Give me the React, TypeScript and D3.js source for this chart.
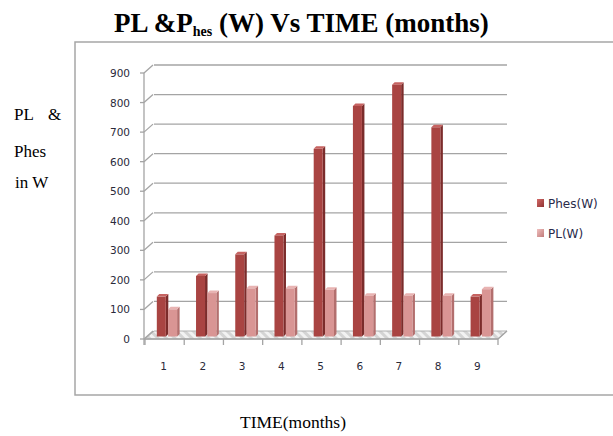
import * as d3 from 'd3';
import React from "react";

const months = ["1", "2", "3", "4", "5", "6", "7", "8", "9"];
const phesValues = [140, 210, 283, 347, 640, 785, 857, 713, 140];
const plValues = [97, 152, 168, 168, 163, 143, 143, 143, 165];
const yTicks = [0, 100, 200, 300, 400, 500, 600, 700, 800, 900];

const App = () => {
  // front plane of the 3d box
  const xScale = d3.scaleBand().domain(months).range([145, 498]);
  const yScale = d3.scaleLinear().domain([0, 900]).range([339, 73]);
  const depthX = 9;
  const depthY = 8;
  // bars stand in the middle of the floor
  const midX = 4;
  const midY = 3.5;
  const barW = 9;
  const sideW = 2.5;
  const topH = 2.5;

  const bar = (v, x, colors, key) => {
    const y0 = yScale(0) - midY + 1;
    const y1 = yScale(v) - midY + topH;
    const xl = x + midX;
    return (
      <g key={key}>
        <polygon points={`${xl + barW},${y1} ${xl + barW + sideW},${y1 - topH} ${xl + barW + sideW},${y0 - topH} ${xl + barW},${y0}`} fill={colors[1]} />
        <polygon points={`${xl},${y1} ${xl + sideW},${y1 - topH} ${xl + barW + sideW},${y1 - topH} ${xl + barW},${y1}`} fill={colors[2]} />
        <rect x={xl} y={y1} width={barW} height={y0 - y1} fill={colors[0]} />
      </g>
    );
  };

  const phesColors = ["#a94442", "#7b2c2b", "#c66361"];
  const plColors = ["#d99594", "#b36f6e", "#e8b3b2"];
  const floorFront = yScale(0);

  return (
    <svg width={613} height={436} style={{ position: "absolute", left: 0, top: 0, background: "#fff" }}>
      <defs>
        <pattern id="floorStripe" width="6" height="6" patternUnits="userSpaceOnUse" patternTransform="rotate(-45)">
          <rect width="6" height="6" fill="#d4d4d4" />
          <rect width="3" height="6" fill="#f2f2f2" />
        </pattern>
        <linearGradient id="gPhes" x1="0" x2="1" y1="0" y2="1">
          <stop offset="0" stopColor="#d46a68" />
          <stop offset="1" stopColor="#8e3231" />
        </linearGradient>
        <linearGradient id="gPl" x1="0" x2="1" y1="0" y2="1">
          <stop offset="0" stopColor="#f0c0bf" />
          <stop offset="1" stopColor="#c07a79" />
        </linearGradient>
      </defs>

      <text x={114} y={32} fontFamily="'Liberation Serif', serif" fontWeight="bold" fontSize={27} fill="#000">
        PL &amp;P<tspan fontSize={14} dy={4}>hes</tspan><tspan dy={-4}> (W) Vs TIME (months)</tspan>
      </text>

      <rect x={75} y={42} width={545} height={353} fill="#fff" stroke="#a6a6a6" strokeWidth={1.5} />

      <g fontFamily="'Liberation Serif', serif" fontSize={17} fill="#000">
        <text x={14} y={120}>PL</text>
        <text x={48} y={120}>&amp;</text>
        <text x={14} y={157}>Phes</text>
        <text x={15} y={188}>in W</text>
      </g>

      {/* floor */}
      <polygon
        points={`145,${floorFront} ${145 + depthX},${floorFront - depthY} ${498 + depthX},${floorFront - depthY} 498,${floorFront}`}
        fill="url(#floorStripe)" stroke="#b0b0b0" strokeWidth={1}
      />

      {/* back wall gridlines and left wall connectors */}
      {yTicks.map(t => (
        <g key={t} stroke="#a4a4a4" strokeWidth={1.3} fill="none">
          {t > 0 && <line x1={145 + depthX} x2={498 + depthX} y1={yScale(t) - depthY} y2={yScale(t) - depthY} />}
          <line x1={140} x2={144} y1={yScale(t)} y2={yScale(t)} />
          <line x1={144} x2={144 + depthX} y1={yScale(t)} y2={yScale(t) - depthY} />
        </g>
      ))}
      <line x1={144} x2={144} y1={yScale(900)} y2={yScale(0) + 6} stroke="#a4a4a4" strokeWidth={1.3} />
      <line x1={144} x2={498} y1={floorFront} y2={floorFront} stroke="#a4a4a4" strokeWidth={1.3} />
      <line x1={498} x2={498 + depthX} y1={floorFront} y2={floorFront - depthY} stroke="#a4a4a4" strokeWidth={1.3} />
      {months.concat(["end"]).map((m, i) => {
        const x = 145 + i * xScale.bandwidth();
        return <line key={m} x1={x} x2={x} y1={floorFront} y2={floorFront + 6} stroke="#a4a4a4" strokeWidth={1.3} />;
      })}

      {/* y tick labels */}
      <g fontFamily="'DejaVu Sans', sans-serif" fontSize={10.5} fill="#2a2a3a" textAnchor="end">
        {yTicks.map(t => (
          <text key={t} x={130} y={yScale(t) + 4}>{t}</text>
        ))}
      </g>

      {/* bars */}
      {months.map((m, i) => {
        const c = xScale(m) + xScale.bandwidth() / 2;
        return (
          <g key={m}>
            {bar(phesValues[i], c - 11.8, phesColors, "p")}
            {bar(plValues[i], c - 0.5, plColors, "l")}
          </g>
        );
      })}

      {/* x labels */}
      <g fontFamily="'DejaVu Sans', sans-serif" fontSize={10.5} fill="#2a2a3a" textAnchor="middle">
        {months.map(m => (
          <text key={m} x={xScale(m) + xScale.bandwidth() / 2 - 1} y={370}>{m}</text>
        ))}
      </g>

      {/* legend */}
      <g fontFamily="'DejaVu Sans', sans-serif" fontSize={12} fill="#2a2a4a">
        <rect x={537} y={199} width={7} height={8} fill="url(#gPhes)" />
        <text x={548} y={208}>Phes(W)</text>
        <rect x={537} y={229} width={7} height={8} fill="url(#gPl)" />
        <text x={548} y={238}>PL(W)</text>
      </g>

      <text x={240} y={428} fontFamily="'Liberation Serif', serif" fontSize={17.5} fill="#000">
        TIME(months)
      </text>
    </svg>
  );
};

export default App;
